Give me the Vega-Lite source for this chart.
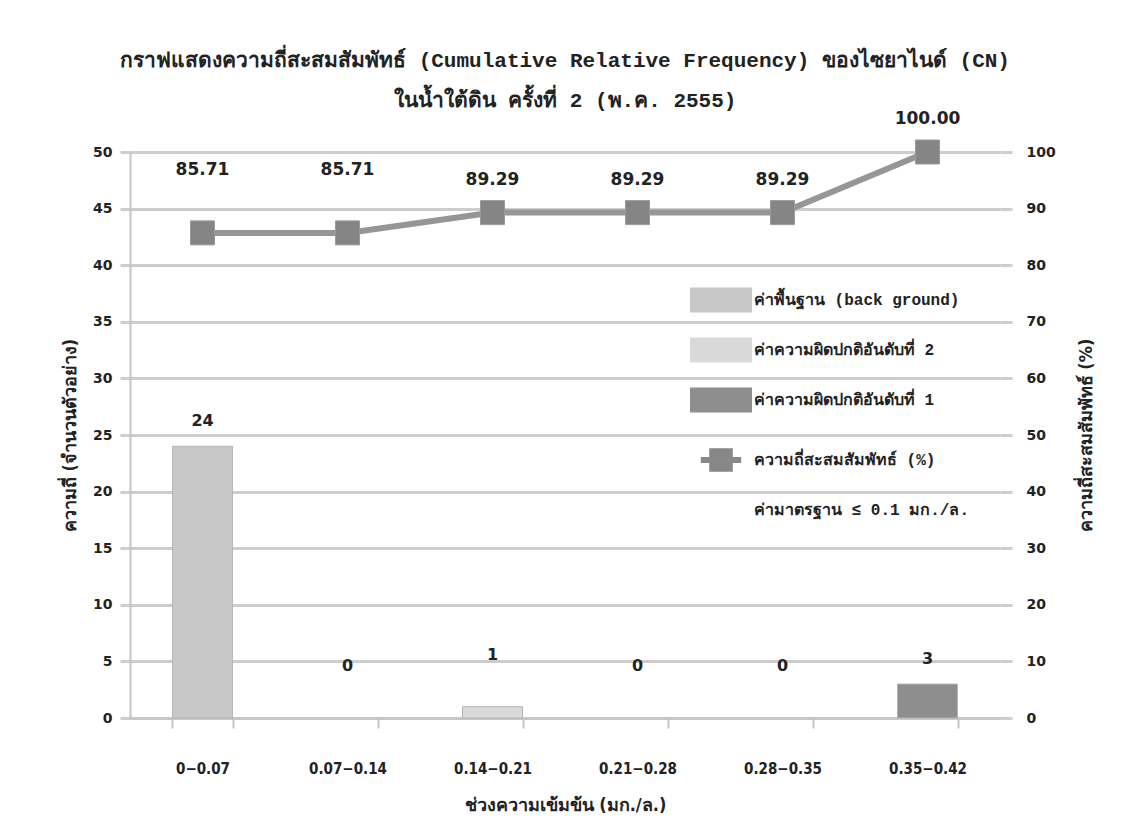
{
  "$schema": "https://vega.github.io/schema/vega-lite/v6.json",
  "width": 870,
  "height": 566,
  "autosize": {"type": "none"},
  "padding": {"left": 130, "top": 152, "right": 125, "bottom": 118},
  "background": "white",
  "title": {
    "text": ["กราฟแสดงความถี่สะสมสัมพัทธ์ (Cumulative Relative Frequency) ของไซยาไนด์ (CN)", "ในน้ำใต้ดิน ครั้งที่ 2 (พ.ค. 2555)"],
    "font": "Liberation Mono",
    "fontSize": 21,
    "fontWeight": "bold",
    "color": "#222222",
    "lineHeight": 40,
    "anchor": "middle",
    "frame": "group",
    "offset": -1
  },
  "data": {
    "values": [
      {"range": "0−0.07", "count": 24, "level": "ค่าพื้นฐาน (back ground)", "pct": 85.71, "series": "ความถี่สะสมสัมพัทธ์ (%)"},
      {"range": "0.07−0.14", "count": 0, "level": "ค่าความผิดปกติอันดับที่ 2", "pct": 85.71, "series": "ความถี่สะสมสัมพัทธ์ (%)"},
      {"range": "0.14−0.21", "count": 1, "level": "ค่าความผิดปกติอันดับที่ 2", "pct": 89.29, "series": "ความถี่สะสมสัมพัทธ์ (%)"},
      {"range": "0.21−0.28", "count": 0, "level": "ค่าความผิดปกติอันดับที่ 2", "pct": 89.29, "series": "ความถี่สะสมสัมพัทธ์ (%)"},
      {"range": "0.28−0.35", "count": 0, "level": "ค่าความผิดปกติอันดับที่ 1", "pct": 89.29, "series": "ความถี่สะสมสัมพัทธ์ (%)"},
      {"range": "0.35−0.42", "count": 3, "level": "ค่าความผิดปกติอันดับที่ 1", "pct": 100.0, "series": "ความถี่สะสมสัมพัทธ์ (%)"}
    ]
  },
  "encoding": {
    "x": {
      "field": "range",
      "type": "nominal",
      "sort": null,
      "scale": {
        "domain": ["0−0.07", "0.07−0.14", "0.14−0.21", "0.21−0.28", "0.28−0.35", "0.35−0.42"],
        "paddingInner": 0.586,
        "paddingOuter": 0.293
      },
      "axis": {
        "title": "ช่วงความเข้มข้น (มก./ล.)",
        "labelAngle": 0,
        "tickBand": "extent",
        "domainColor": "#c4c4c4",
        "domainWidth": 2,
        "tickColor": "#c4c4c4",
        "tickWidth": 2,
        "tickSize": 10,
        "labelPadding": 33,
        "labelFont": "DejaVu Sans Condensed",
        "labelFontWeight": "bold",
        "labelFontSize": 15,
        "labelColor": "#222222",
        "titleFont": "DejaVu Sans Condensed",
        "titleFontWeight": "bold",
        "titleFontSize": 18,
        "titleColor": "#222222",
        "titlePadding": 20
      }
    }
  },
  "layer": [
    {
      "layer": [
        {
          "transform": [{"filter": "datum.count > 0"}],
          "mark": {"type": "bar", "stroke": "#b5b5b5", "strokeWidth": 1},
          "encoding": {
            "y": {
              "field": "count",
              "type": "quantitative",
              "scale": {"domain": [0, 50]},
              "axis": {
                "orient": "left",
                "values": [0, 5, 10, 15, 20, 25, 30, 35, 40, 45, 50],
                "title": "ความถี่ (จำนวนตัวอย่าง)",
                "grid": true,
                "gridColor": "#cdcdcd",
                "gridWidth": 3,
                "domain": true,
                "domainColor": "#c4c4c4",
                "domainWidth": 2,
                "tickColor": "#cdcdcd",
                "tickWidth": 3,
                "tickSize": 10,
                "labelPadding": 8,
                "labelFont": "DejaVu Sans",
                "labelFontWeight": "bold",
                "labelFontSize": 14,
                "labelColor": "#222222",
                "titleFont": "DejaVu Sans Condensed",
                "titleFontWeight": "bold",
                "titleFontSize": 18,
                "titleColor": "#222222",
                "titlePadding": 13
              }
            },
            "color": {
              "field": "level",
              "type": "nominal",
              "scale": {
                "domain": ["ค่าพื้นฐาน (back ground)", "ค่าความผิดปกติอันดับที่ 2", "ค่าความผิดปกติอันดับที่ 1"],
                "range": ["#c8c8c8", "#d9d9d9", "#8e8e8e"]
              },
              "legend": {
                "orient": "none",
                "legendX": 560,
                "legendY": 117,
                "title": null,
                "symbolType": "M-1,-0.4H1V0.4H-1Z",
                "symbolSize": 3844,
                "symbolStrokeWidth": 0,
                "rowPadding": 6,
                "labelOffset": 2,
                "labelFont": "Liberation Mono",
                "labelFontWeight": "bold",
                "labelFontSize": 16,
                "labelColor": "#222222",
                "labelLimit": 320
              }
            }
          }
        },
        {
          "transform": [{"filter": "datum.count >= 2"}],
          "mark": {"type": "text", "dy": -25, "font": "DejaVu Sans", "fontWeight": "bold", "fontSize": 16, "color": "#222222"},
          "encoding": {
            "y": {"field": "count", "type": "quantitative"},
            "text": {"field": "count", "type": "quantitative"}
          }
        },
        {
          "transform": [{"filter": "datum.count < 2"}],
          "mark": {"type": "text", "dy": -52, "font": "DejaVu Sans", "fontWeight": "bold", "fontSize": 16, "color": "#222222"},
          "encoding": {
            "y": {"field": "count", "type": "quantitative"},
            "text": {"field": "count", "type": "quantitative"}
          }
        }
      ]
    },
    {
      "layer": [
        {
          "mark": {"type": "line", "color": "#969696", "strokeWidth": 6},
          "encoding": {
            "y": {
              "field": "pct",
              "type": "quantitative",
              "scale": {"domain": [0, 100]},
              "axis": {
                "orient": "right",
                "values": [0, 10, 20, 30, 40, 50, 60, 70, 80, 90, 100],
                "title": "ความถี่สะสมสัมพัทธ์ (%)",
                "titleAngle": 270,
                "grid": false,
                "domain": false,
                "tickColor": "#cdcdcd",
                "tickWidth": 3,
                "tickSize": 12,
                "labelPadding": 14,
                "labelFont": "DejaVu Sans",
                "labelFontWeight": "bold",
                "labelFontSize": 14,
                "labelColor": "#222222",
                "titleFont": "DejaVu Sans Condensed",
                "titleFontWeight": "bold",
                "titleFontSize": 18,
                "titleColor": "#222222",
                "titlePadding": 40
              }
            },
            "opacity": {
              "field": "series",
              "type": "ordinal",
              "scale": {
                "domain": ["ความถี่สะสมสัมพัทธ์ (%)", "ค่ามาตรฐาน ≤ 0.1 มก./ล."],
                "range": [1, 0.001]
              },
              "legend": {
                "orient": "none",
                "legendX": 560,
                "legendY": 277,
                "title": null,
                "symbolType": "M-0.65,-0.1H0.65V0.1H-0.65Z M-0.38,-0.38H0.38V0.38H-0.38Z",
                "symbolSize": 3844,
                "symbolFillColor": "#878787",
                "symbolStrokeColor": "#969696",
                "symbolStrokeWidth": 0,
                "rowPadding": 7,
                "labelOffset": 2,
                "labelFont": "Liberation Mono",
                "labelFontWeight": "bold",
                "labelFontSize": 16,
                "labelColor": "#222222",
                "labelOpacity": 1,
                "labelLimit": 320
              }
            }
          }
        },
        {
          "mark": {"type": "point", "shape": "square", "size": 576, "filled": true, "fill": "#858585", "stroke": "#9a9a9a", "strokeWidth": 1, "opacity": 1},
          "encoding": {
            "y": {"field": "pct", "type": "quantitative"}
          }
        },
        {
          "transform": [{"filter": "datum.pct < 88"}],
          "mark": {"type": "text", "dy": -63, "font": "DejaVu Sans", "fontWeight": "bold", "fontSize": 17, "color": "#222222"},
          "encoding": {
            "y": {"field": "pct", "type": "quantitative"},
            "text": {"field": "pct", "type": "quantitative", "format": ".2f"}
          }
        },
        {
          "transform": [{"filter": "datum.pct >= 88"}],
          "mark": {"type": "text", "dy": -33, "font": "DejaVu Sans", "fontWeight": "bold", "fontSize": 17, "color": "#222222"},
          "encoding": {
            "y": {"field": "pct", "type": "quantitative"},
            "text": {"field": "pct", "type": "quantitative", "format": ".2f"}
          }
        }
      ]
    }
  ],
  "resolve": {"scale": {"y": "independent"}},
  "config": {
    "view": {"stroke": null}
  }
}
